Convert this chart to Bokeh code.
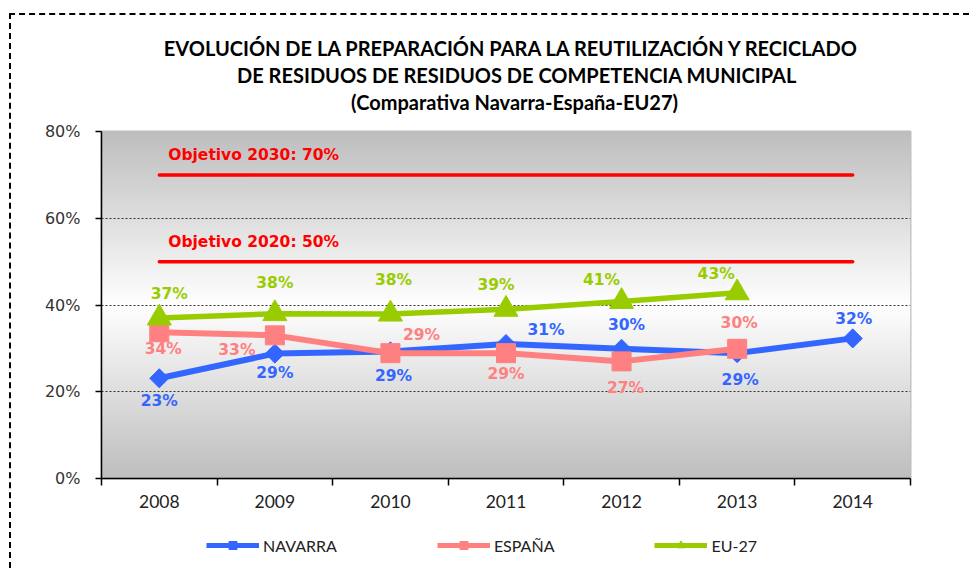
import numpy as np
from bokeh.plotting import figure
from bokeh.layouts import column
from bokeh.models import (Range1d, FixedTicker, PrintfTickFormatter,
                          Legend, LegendItem, ColumnDataSource)
from bokeh.core.properties import value
from bokeh.embed import file_html
from bokeh.resources import INLINE

# ---------------- data ----------------
years = ["2008", "2009", "2010", "2011", "2012", "2013", "2014"]
navarra = [23.1, 28.8, 29.3, 31.0, 29.9, 28.9, 32.3]
espana = [33.7, 33.0, 28.9, 28.9, 27.0, 29.9]
eu27 = [37.0, 38.0, 37.9, 39.0, 40.8, 42.8]
objetivo_2030 = 70
objetivo_2020 = 50
y_ticks = [0, 20, 40, 60, 80]
grid_ticks = [20, 40, 60]
series_names = ["NAVARRA", "ESPAÑA", "EU-27"]
title_lines = [
    "EVOLUCIÓN  DE LA PREPARACIÓN PARA LA REUTILIZACIÓN  Y RECICLADO",
    "DE RESIDUOS DE RESIDUOS DE COMPETENCIA MUNICIPAL",
    "(Comparativa  Navarra-España-EU27)",
]

# ---------------- label placement (style, screen px) ----------------
nav_dx = [0, 0, 3, 40, 5, 3, 1]
nav_dy = [23, 19, 25, -14, -24, 27, -19]
esp_dx = [4, -38, 31, 0, 4, 2]
esp_dy = [17, 15, -18, 21, 27, -26]
eu_dx = [10, 0, 3, -10, -20, -21]
eu_dy = [-24, -31, -34, -24, -22, -19]
title_dy = [32, 59, 86]

C_NAV = "#3366FF"
C_ESP = "#FF8080"
C_EU = "#99CC00"
C_RED = "#FF0000"

xpos = [i + 0.5 for i in range(len(years))]

# ---------------- title strip ----------------
tf = figure(width=958, height=106, output_backend="svg", toolbar_location=None,
            x_axis_type=None, y_axis_type=None, x_range=Range1d(0, 1), y_range=Range1d(0, 1),
            min_border=0, min_border_left=0, min_border_right=0,
            min_border_top=0, min_border_bottom=0,
            outline_line_color=None, background_fill_color="white", border_fill_color="white")
tf.grid.visible = False
tf.text(x=[0.5] * len(title_lines), y=[1] * len(title_lines), text=title_lines,
        x_offset=11, y_offset=title_dy,
        text_font=value("Lato"), text_font_style="bold", text_font_size="20px",
        text_color="#000", text_align="center", text_baseline="middle")

# ---------------- main chart ----------------
p = figure(width=958, height=409,
           x_range=Range1d(0, len(years)), y_range=Range1d(y_ticks[0], y_ticks[-1]),
           output_backend="svg", toolbar_location=None,
           min_border_left=90, min_border_right=59,
           min_border_top=10, min_border_bottom=52,
           background_fill_color="white", border_fill_color="white",
           outline_line_color="#BFBFBF", outline_line_width=2)

# gradient background of the plot area
N = 320
vv = (np.arange(N) + 0.5) / N * 80
cc = (255 - 65 * np.abs(vv - 40) / 40).astype(np.uint8)
img = np.empty((N, 2), dtype=np.uint32)
view = img.view(dtype=np.uint8).reshape((N, 2, 4))
view[:, :, 0] = cc[:, None]
view[:, :, 1] = cc[:, None]
view[:, :, 2] = cc[:, None]
view[:, :, 3] = 255
p.image_rgba(image=[img], x=0, y=0, dw=len(years), dh=80, level="image")

# grid
p.xgrid.visible = False
p.ygrid.ticker = FixedTicker(ticks=grid_ticks)
p.ygrid.grid_line_color = "#333333"
p.ygrid.grid_line_dash = "2 2"
p.ygrid.grid_line_width = 1

# axes
p.yaxis.ticker = FixedTicker(ticks=y_ticks)
p.yaxis.formatter = PrintfTickFormatter(format="%d%%")
p.yaxis.major_tick_out = 6
p.yaxis.major_tick_in = 0
p.yaxis.minor_tick_out = 0
p.yaxis.axis_line_color = "#000"
p.yaxis.axis_line_width = 1.5
p.yaxis.major_tick_line_width = 1.5
p.yaxis.major_label_text_font = "DejaVu Sans"
p.yaxis.major_label_text_font_size = "16px"
p.yaxis.major_label_text_color = "#333333"
p.yaxis.major_label_standoff = 15

p.xaxis.ticker = FixedTicker(ticks=xpos, minor_ticks=list(range(len(years) + 1)))
p.xaxis.major_label_overrides = {x: y for x, y in zip(xpos, years)}
p.xaxis.major_tick_line_color = None
p.xaxis.major_tick_out = 7
p.xaxis.major_tick_in = 0
p.xaxis.minor_tick_out = 7
p.xaxis.minor_tick_in = 0
p.xaxis.minor_tick_line_color = "#000"
p.xaxis.minor_tick_line_width = 1.5
p.xaxis.axis_line_color = "#000"
p.xaxis.axis_line_width = 1.5
p.xaxis.major_label_text_font = "Lato"
p.xaxis.major_label_text_font_size = "17.5px"
p.xaxis.major_label_text_color = "#222222"
p.xaxis.major_label_standoff = 9

# objective lines
for obj, txt in [(objetivo_2030, "Objetivo 2030: 70%"), (objetivo_2020, "Objetivo 2020: 50%")]:
    p.line(x=[xpos[0], xpos[-1]], y=[obj, obj], line_color=C_RED, line_width=3.5, line_cap="round")
    p.text(x=[xpos[0]], y=[obj], text=[txt], x_offset=9, y_offset=-20,
           text_font=value("DejaVu Sans"), text_font_style="bold", text_font_size="15.5px",
           text_color=C_RED, text_align="left", text_baseline="middle")

# series
def draw(vals, color, marker, msize, angle, dx, dy, lw):
    n = len(vals)
    src = ColumnDataSource(dict(x=xpos[:n], y=vals,
                                lab=[f"{round(v)}%" for v in vals], dx=dx, dy=dy))
    p.line("x", "y", source=src, line_color=color, line_width=lw)
    p.scatter("x", "y", source=src, marker=marker, size=msize, angle=angle,
              fill_color=color, line_color=color)
    return src

s_nav = draw(navarra, C_NAV, "square", 13.5, np.pi / 4, nav_dx, nav_dy, 6)
s_esp = draw(espana, C_ESP, "square", 19, 0, esp_dx, esp_dy, 6)
s_eu = draw(eu27, C_EU, "triangle", 24, 0, eu_dx, eu_dy, 5.5)

for src, color in [(s_nav, C_NAV), (s_esp, C_ESP), (s_eu, C_EU)]:
    p.text("x", "y", text="lab", source=src, x_offset="dx", y_offset="dy",
           text_font=value("DejaVu Sans"), text_font_style="bold", text_font_size="15.5px",
           text_color=color, text_align="center", text_baseline="middle")

# ---------------- legend strip ----------------
lf = figure(width=958, height=38, output_backend="svg", toolbar_location=None,
            x_axis_type=None, y_axis_type=None, x_range=Range1d(0, 1), y_range=Range1d(0, 1),
            min_border=0, min_border_left=0, min_border_right=0,
            min_border_top=0, min_border_bottom=0,
            outline_line_color=None, background_fill_color="white",
            border_fill_color="white")
lf.grid.visible = False
items = []
for name, color, marker, msize, angle in [(series_names[0], C_NAV, "square", 5, np.pi / 4),
                                           (series_names[1], C_ESP, "square", 10, 0),
                                           (series_names[2], C_EU, "triangle", 10, 0)]:
    es = ColumnDataSource(dict(x=[-10], y=[-10]))   # off-screen: only the legend swatch shows
    lr = lf.line("x", "y", source=es, line_color=color, line_width=5)
    mr = lf.scatter("x", "y", source=es, marker=marker, size=msize, angle=angle,
                    fill_color=color, line_color=color)
    items.append(LegendItem(label=name, renderers=[lr, mr]))
legend = Legend(items=items, orientation="horizontal", location=(105, 13), spacing=100,
                glyph_width=53, glyph_height=20, label_standoff=4,
                border_line_color=None, background_fill_alpha=0,
                label_text_font="Lato", label_text_font_size="16px",
                label_text_color="#222222", padding=0, margin=0)
lf.add_layout(legend, "center")

layout = column(tf, p, lf, spacing=0,
                styles={"margin-left": "9px", "margin-top": "13px",
                        "border-left": "2px dashed #000", "border-top": "2px dashed #000"})

open("out.html", "w").write(file_html(layout, INLINE))
